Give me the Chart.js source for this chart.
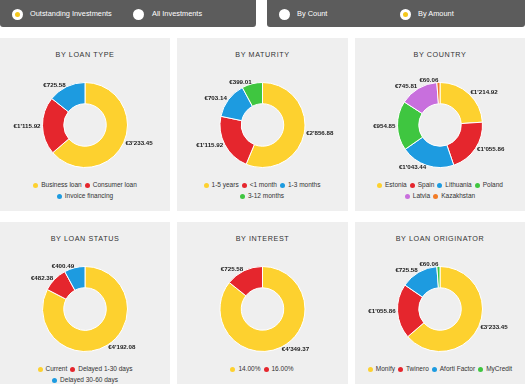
<!DOCTYPE html>
<html lang="en">
<head>
  <meta charset="UTF-8">
  <title>Portfolio breakdown</title>
  <script src="https://cdn.jsdelivr.net/npm/chart.js"></script>
  <style>
    body { margin: 0; width: 525px; height: 384px; overflow: hidden; background: #fff; font-family: "Liberation Sans", Arial, sans-serif; position: relative; }
    .bar { position: absolute; top: 0; height: 27px; background: #5c5c5c; border-radius: 0 0 3px 3px; }
    .radio { position: absolute; top: 14px; width: 11px; height: 11px; margin: -5.5px 0 0 -5.5px; border-radius: 50%; background: #fff; }
    .radio.on::after { content: ""; position: absolute; left: 3px; top: 3px; width: 5px; height: 5px; border-radius: 50%; background: #f4c71c; }
    .opt { position: absolute; top: 10px; color: #fff; font-size: 7.4px; line-height: 8px; white-space: nowrap; }
    .panel { position: absolute; background: #efefef; }
    .panel h3 { position: absolute; left: 0; right: 0; top: 13px; margin: 0; text-align: center; font-size: 7.2px; line-height: 8px; letter-spacing: 0.6px; font-weight: normal; color: #333; }
    .panel canvas { position: absolute; left: 0; top: 37px; }
    .legend { position: absolute; left: 9px; width: 152px; top: 141px; text-align: center; font-size: 6.5px; line-height: 11px; color: #333; }
    .legend span { display: inline-block; white-space: nowrap; margin: 0 1.5px; }
    .legend i { display: inline-block; width: 5px; height: 5px; border-radius: 50%; margin-right: 3px; vertical-align: -0.5px; }
  </style>
</head>
<body>
  <div class="bar" style="left:0;width:256px"></div>
  <div class="bar" style="left:267px;width:258px"></div>
  <div class="radio on" style="left:17px"></div><div class="opt" style="left:30px">Outstanding Investments</div>
  <div class="radio" style="left:138px"></div><div class="opt" style="left:152px">All Investments</div>
  <div class="radio" style="left:284px"></div><div class="opt" style="left:297px">By Count</div>
  <div class="radio on" style="left:405px"></div><div class="opt" style="left:418px">By Amount</div>

  <div class="panel" style="left:0;top:38px;width:170px;height:173px"><h3>BY LOAN TYPE</h3><canvas id="c1" width="170" height="100"></canvas><div class="legend" id="l1"></div></div>
  <div class="panel" style="left:177px;top:38px;width:171px;height:173px"><h3>BY MATURITY</h3><canvas id="c2" width="171" height="100"></canvas><div class="legend" id="l2"></div></div>
  <div class="panel" style="left:355px;top:38px;width:170px;height:173px"><h3>BY COUNTRY</h3><canvas id="c3" width="170" height="100"></canvas><div class="legend" id="l3"></div></div>
  <div class="panel" style="left:0;top:222px;width:170px;height:170px"><h3>BY LOAN STATUS</h3><canvas id="c4" width="170" height="100"></canvas><div class="legend" id="l4"></div></div>
  <div class="panel" style="left:177px;top:222px;width:171px;height:170px"><h3>BY INTEREST</h3><canvas id="c5" width="171" height="100"></canvas><div class="legend" id="l5"></div></div>
  <div class="panel" style="left:355px;top:222px;width:170px;height:170px"><h3>BY LOAN ORIGINATOR</h3><canvas id="c6" width="170" height="100"></canvas><div class="legend" id="l6"></div></div>

  <script>
    const YELLOW = '#fdd12f', RED = '#e5262d', BLUE = '#1d9be0', GREEN = '#3fc640', PURPLE = '#c86fdd', ORANGE = '#f27c27';

    const loanTypeLabels = ['Business loan', 'Consumer loan', 'Invoice financing'];
    const loanTypeValues = [3233.45, 1115.92, 725.58];
    const loanTypeColors = [YELLOW, RED, BLUE];

    const maturityLabels = ['1-5 years', '<1 month', '1-3 months', '3-12 months'];
    const maturityValues = [2856.88, 1115.92, 703.14, 399.01];
    const maturityColors = [YELLOW, RED, BLUE, GREEN];

    const countryLabels = ['Estonia', 'Spain', 'Lithuania', 'Poland', 'Latvia', 'Kazakhstan'];
    const countryValues = [1214.92, 1055.86, 1043.44, 954.85, 745.81, 60.06];
    const countryColors = [YELLOW, RED, BLUE, GREEN, PURPLE, ORANGE];

    const statusLabels = ['Current', 'Delayed 1-30 days', 'Delayed 30-60 days'];
    const statusValues = [4192.08, 482.38, 400.49];
    const statusColors = [YELLOW, RED, BLUE];

    const interestLabels = ['14.00%', '16.00%'];
    const interestValues = [4349.37, 725.58];
    const interestColors = [YELLOW, RED];

    const originatorLabels = ['Monify', 'Twinero', 'Aforti Factor', 'MyCredit'];
    const originatorValues = [3233.45, 1055.86, 725.58, 60.06];
    const originatorColors = [YELLOW, RED, BLUE, GREEN];

    function euro(v) {
      const parts = v.toFixed(2).split('.');
      return '€' + parts[0].replace(/\B(?=(\d{3})+(?!\d))/g, "'") + '.' + parts[1];
    }

    // value labels just outside each slice
    const outLabels = {
      id: 'outLabels',
      afterDatasetsDraw(chart) {
        const ctx = chart.ctx;
        const meta = chart.getDatasetMeta(0);
        const values = chart.data.datasets[0].data;
        ctx.save();
        ctx.font = 'bold 6.2px "Liberation Sans", Arial, sans-serif';
        ctx.fillStyle = '#1a1a1a';
        ctx.textBaseline = 'middle';
        meta.data.forEach((arc, i) => {
          const p = arc.getProps(['x', 'y', 'startAngle', 'endAngle', 'outerRadius'], true);
          const mid = (p.startAngle + p.endAngle) / 2;
          const r = p.outerRadius + 2;
          const cx = Math.cos(mid), cy = Math.sin(mid);
          ctx.textAlign = cx >= 0 ? 'left' : 'right';
          ctx.fillText(euro(values[i]), p.x + cx * r, p.y + cy * r);
        });
        ctx.restore();
      }
    };

    function makeDonut(id, legendId, labels, values, colors) {
      new Chart(document.getElementById(id), {
        type: 'doughnut',
        data: {
          labels: labels,
          datasets: [{
            data: values,
            backgroundColor: colors,
            borderColor: '#ffffff',
            borderWidth: 1
          }]
        },
        options: {
          responsive: false,
          animation: false,
          cutout: '50%',
          layout: { padding: { top: 7, bottom: 7 } },
          plugins: { legend: { display: false }, tooltip: { enabled: false } }
        },
        plugins: [outLabels]
      });
      const leg = document.getElementById(legendId);
      leg.innerHTML = labels.map((l, i) =>
        `<span><i style="background:${colors[i]}"></i>${l.replace('<', '&lt;')}</span>`).join('');
    }

    makeDonut('c1', 'l1', loanTypeLabels, loanTypeValues, loanTypeColors);
    makeDonut('c2', 'l2', maturityLabels, maturityValues, maturityColors);
    makeDonut('c3', 'l3', countryLabels, countryValues, countryColors);
    makeDonut('c4', 'l4', statusLabels, statusValues, statusColors);
    makeDonut('c5', 'l5', interestLabels, interestValues, interestColors);
    makeDonut('c6', 'l6', originatorLabels, originatorValues, originatorColors);
  </script>
</body>
</html>
